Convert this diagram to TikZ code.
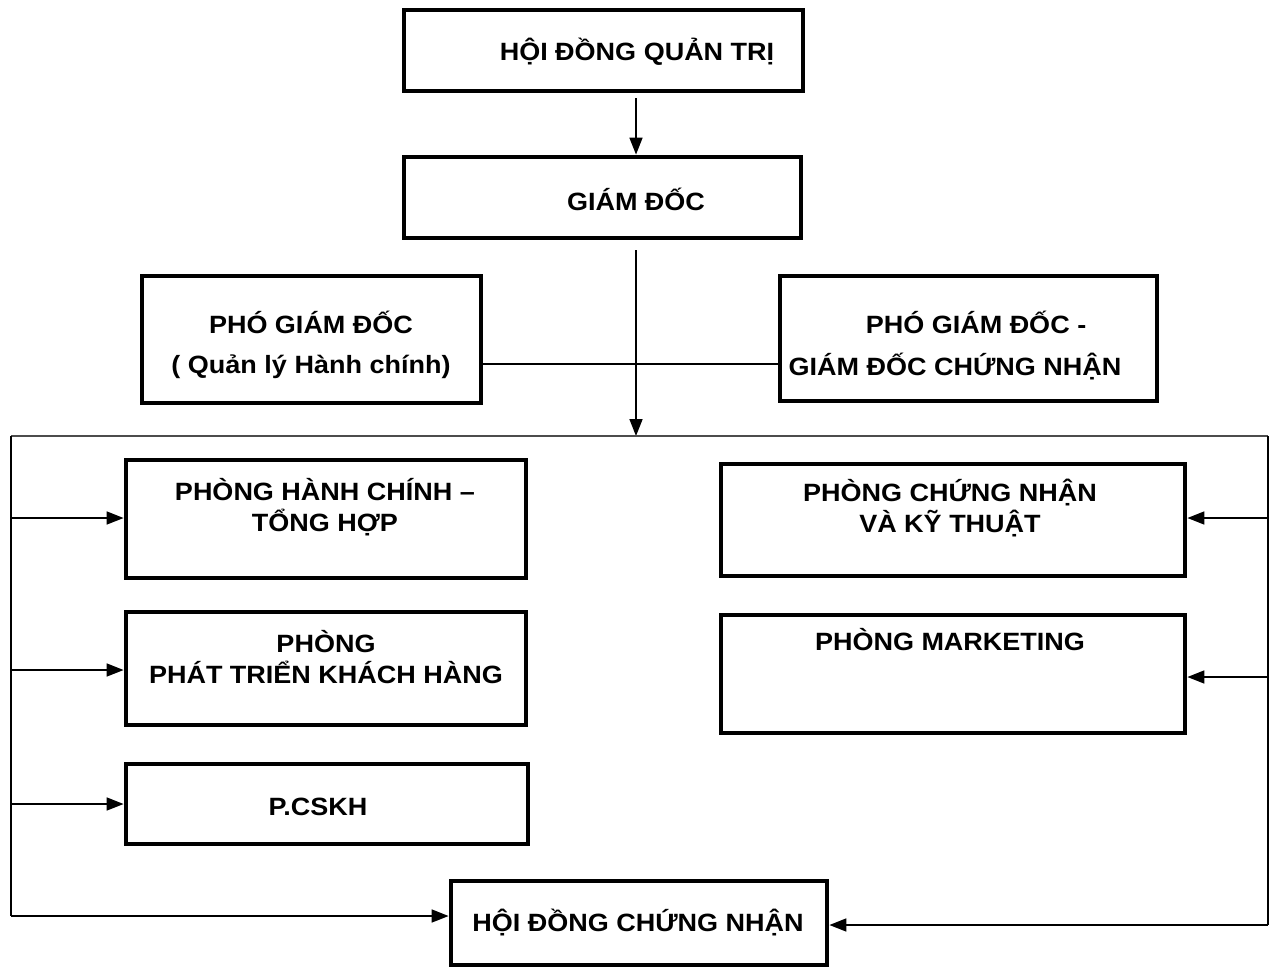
\documentclass[tikz,border=0pt]{standalone}
\usepackage{fontspec}
\setmainfont[FakeStretch=1.08]{Liberation Sans}
\usetikzlibrary{arrows.meta}
\tikzset{
  khung/.style={draw, line width=4.8pt, inner sep=0pt},
  chu/.style={font=\fontsize{25}{31}\selectfont\bfseries, align=center, inner sep=0pt},
  muiten/.style={-{Triangle[length=17pt,width=13pt]}, line width=1.7pt},
  duong/.style={line width=1.7pt}
}
\begin{document}
\begin{tikzpicture}[x=1pt,y=-1pt]
  \useasboundingbox (0,0) rectangle (1271,969);
  % cac khung
  \node [khung, minimum width=399pt, minimum height=81pt] (hdqt) at (603.5,50.5) {};
  \node [khung, minimum width=397pt, minimum height=81pt] (gd) at (602.5,197.5) {};
  \node [khung, minimum width=339pt, minimum height=127pt] (pgda) at (311.5,339.5) {};
  \node [khung, minimum width=377pt, minimum height=125pt] (pgdb) at (968.5,338.5) {};
  \node [khung, minimum width=400pt, minimum height=118pt] (hcth) at (326,519) {};
  \node [khung, minimum width=400pt, minimum height=113pt] (ptkh) at (326,668.5) {};
  \node [khung, minimum width=402pt, minimum height=80pt] (cskh) at (327,804) {};
  \node [khung, minimum width=464pt, minimum height=112pt] (cnkt) at (953,520) {};
  \node [khung, minimum width=464pt, minimum height=118pt] (mkt) at (953,674) {};
  \node [khung, minimum width=376pt, minimum height=84pt] (hdcn) at (639,923) {};
  % chu
  \node [chu] (t1) at (637,52) {HỘI ĐỒNG QUẢN TRỊ};
  \node [chu] (t2) at (636,199) {GIÁM ĐỐC};
  \node [chu] (t3) at (311,322) {PHÓ GIÁM ĐỐC};
  \node [chu] (t4) at (311,367) {( Quản lý Hành chính)};
  \node [chu] (t5) at (976,322) {PHÓ GIÁM ĐỐC -};
  \node [chu] (t6) at (955,367) {GIÁM ĐỐC CHỨNG NHẬN};
  \node [chu] (t7) at (325,507) {PHÒNG HÀNH CHÍNH –\\TỔNG HỢP};
  \node [chu] (t8) at (326,657) {PHÒNG\\PHÁT TRIỂN KHÁCH HÀNG};
  \node [chu] (t9) at (318,807) {P.CSKH};
  \node [chu] (t10) at (950,508) {PHÒNG CHỨNG NHẬN\\VÀ KỸ THUẬT};
  \node [chu] (t11) at (950,640) {PHÒNG MARKETING};
  \node [chu] (t12) at (638,923) {HỘI ĐỒNG CHỨNG NHẬN};
  % toa do
  \coordinate (truc) at (636,436);
  \coordinate (tl) at (11,436);
  \coordinate (tr) at (1268,436);
  \coordinate (bl) at (11,916);
  \coordinate (br) at (1268,925);
  \coordinate (ngang) at (0,364);
  % duong noi
  \draw [muiten] ([yshift=-5pt]hdqt.south -| truc) -- (gd.north -| truc);
  \draw [muiten] ([yshift=-10pt]gd.south -| truc) -- (truc);
  \draw [duong, line width=1.4pt] (pgda.east |- ngang) -- (pgdb.west |- ngang);
  \draw [duong, line width=1.2pt, black!70] (tl) -- (tr);
  \draw [duong] (tl) -- (bl);
  \draw [duong] (tr) -- (br);
  \draw [muiten] (bl) -- (hdcn.west |- bl);
  \draw [muiten] (br) -- (hdcn.east |- br);
  \foreach \y/\n in {518/hcth, 670/ptkh, 804/cskh}
    \draw [muiten] (tl |- 0,\y) -- (\n.west |- 0,\y);
  \foreach \y/\n in {518/cnkt, 677/mkt}
    \draw [muiten] (tr |- 0,\y) -- (\n.east |- 0,\y);
\end{tikzpicture}
\end{document}
